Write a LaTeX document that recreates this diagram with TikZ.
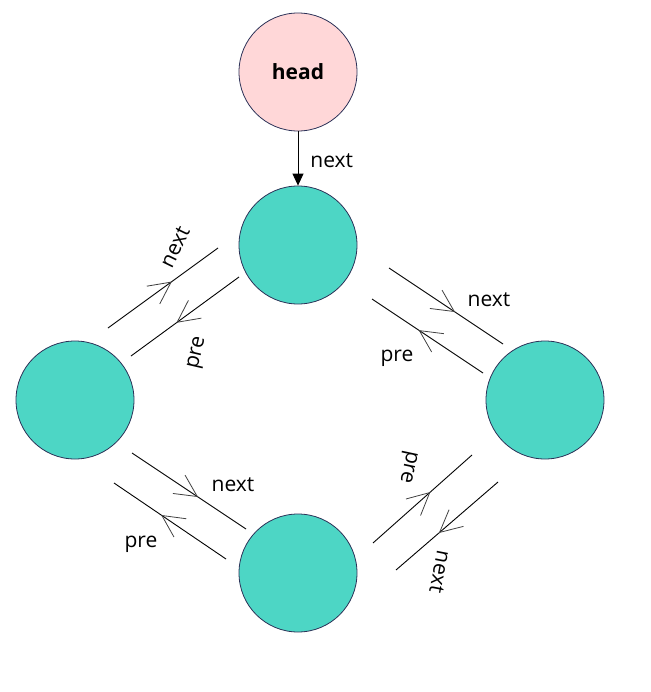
\documentclass[tikz,border=0pt]{standalone}
\usepackage{fontspec}
\setmainfont{Open Sans}
\usetikzlibrary{arrows.meta,decorations.markings}
\definecolor{llTeal}{HTML}{4DD6C5}
\definecolor{llPink}{HTML}{FFD7D8}
\definecolor{llEdge}{HTML}{2B3157}

\begin{document}
\begin{tikzpicture}[
  x=0.5bp, y=-0.5bp,
  font=\fontsize{10.5bp}{12.5bp}\selectfont,
  elem/.style ={circle, draw=llEdge, line width=0.4pt, minimum size=59bp,
                inner sep=0pt, fill=llTeal},
  hd/.style   ={elem, fill=llPink, font=\fontsize{10.5bp}{12.5bp}\selectfont\bfseries},
  link/.style ={draw=black, line width=0.45pt, postaction={decorate},
                decoration={markings, mark=at position 0.58 with
                  {\arrow[line width=0.4pt, black!75]{Straight Barb[length=11bp,width=11bp]}}}},
  ptr/.style  ={-{Triangle[length=6bp,width=5.5bp]}, draw=black, line width=0.45pt},
  lbl/.style  ={inner sep=0pt},
]
\useasboundingbox (0,0) rectangle (651,692);

% ---- the ring ----------------------------------------------------------------------
\node[hd]   (head) at (298,72)  {head};
\node[elem] (top)  at (298,245) {};
\node[elem] (lft)  at (75,400)  {};
\node[elem] (rgt)  at (545,400) {};
\node[elem] (bot)  at (298,573) {};

\draw[ptr] (head) -- (top);
\node[lbl, anchor=west] (headnx) at (310,161) {next};

% ---- link ends, one pair per direction ---------------------------------------------
\coordinate (tlN1) at (108,328);  \coordinate (tlN2) at (218,248);
\coordinate (tlP1) at (239,277);  \coordinate (tlP2) at (131,356);
\coordinate (trN1) at (389,268);  \coordinate (trN2) at (503,344);
\coordinate (trP1) at (483,373);  \coordinate (trP2) at (372,299);
\coordinate (blN1) at (132,453);  \coordinate (blN2) at (246,529);
\coordinate (blP1) at (226,559);  \coordinate (blP2) at (114,483);
\coordinate (brP1) at (373,543);  \coordinate (brP2) at (472,455);
\coordinate (brN1) at (498,482);  \coordinate (brN2) at (396,570);

\draw[link] (tlN1) -- (tlN2);
\draw[link] (tlP1) -- (tlP2);
\draw[link] (trN1) -- (trN2);
\draw[link] (trP1) -- (trP2);
\draw[link] (blN1) -- (blN2);
\draw[link] (blP1) -- (blP2);
\draw[link] (brP1) -- (brP2);
\draw[link] (brN1) -- (brN2);

% ---- labels ------------------------------------------------------------------------
\node[lbl, rotate=64]   (tlnx) at (175,247) {next};
\node[lbl, rotate=77]   (tlpr) at (198,353) {pre};
\node[lbl]              (trnx) at (489,300) {next};
\node[lbl]              (trpr) at (397,358) {pre};
\node[lbl]              (blnx) at (233,485) {next};
\node[lbl]              (blpr) at (141,544) {pre};
\node[lbl, rotate=-102] (brpr) at (407,467) {pre};
\node[lbl, rotate=-101] (brnx) at (440,572) {next};

\end{tikzpicture}
\end{document}
